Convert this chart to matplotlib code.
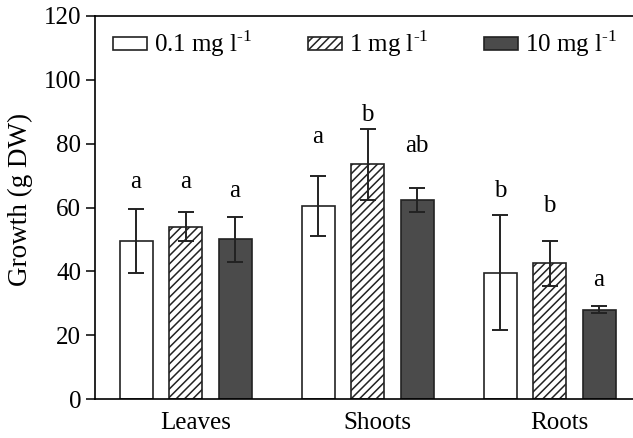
"""
Growth of plant parts at three concentrations
"""
import numpy as np
import matplotlib.pyplot as plt

plt.rcParams['font.family'] = ['Liberation Serif', 'DejaVu Serif']
plt.rcParams['mathtext.fontset'] = 'custom'
plt.rcParams['mathtext.rm'] = 'Liberation Serif'
plt.rcParams['hatch.linewidth'] = 1.1

# Data
organs = ['Leaves', 'Shoots', 'Roots']
doses = [r'0.1 mg l$^{\text{-1}}$', r'1 mg l$^{\text{-1}}$', r'10 mg l$^{\text{-1}}$']
growth_01 = [49.5, 60.5, 39.5]
growth_1 = [54.0, 73.5, 42.5]
growth_10 = [50.0, 62.3, 28.0]
err_01 = [10.0, 9.5, 18.0]
err_1 = [4.6, 11.0, 7.0]
err_10 = [7.0, 3.8, 1.2]
letters_01 = ['a', 'a', 'b']
letters_1 = ['a', 'b', 'b']
letters_10 = ['a', 'ab', 'a']
letter_y_01 = [66.0, 80.1, 63.4]
letter_y_1 = [66.0, 87.2, 58.7]
letter_y_10 = [63.4, 77.3, 35.5]

growth = [growth_01, growth_1, growth_10]
errors = [err_01, err_1, err_10]
letters = [letters_01, letters_1, letters_10]
letter_y = [letter_y_01, letter_y_1, letter_y_10]

# Styles
faces = ['white', 'white', '#4b4b4b']
hatches = ['', '////', '']
edge = '#222222'

fig = plt.figure(figsize=(6.33, 4.38), dpi=100)
ax = fig.add_axes([0.150, 0.089, 0.85, 0.8745])

x = np.arange(len(organs)) * 3.677
width = 0.667

for i in range(3):
    pos = x + (i - 1) * 1.0
    ax.bar(pos, growth[i], width, color=faces[i], edgecolor=edge,
           hatch=hatches[i], linewidth=1.2, label=doses[i], zorder=2)
    ax.errorbar(pos, growth[i], yerr=errors[i], fmt='none', ecolor=edge,
                elinewidth=1.4, capsize=6, capthick=1.4, zorder=3)
    for p, lab, ly in zip(pos, letters[i], letter_y[i]):
        ax.text(p, ly, lab, ha='center', va='baseline', fontsize=18)

ax.set_xlim(-1.83, 9.04)
ax.set_ylim(0, 120)
ax.set_yticks(np.arange(0, 121, 20))
ax.set_xticks(x + 0.2)
ax.set_xticklabels(organs)
ax.tick_params(axis='x', length=0, pad=9, labelsize=18)
ax.tick_params(axis='y', direction='out', length=6.5, width=1.1, labelsize=18)

ax.spines['right'].set_visible(False)
for s in ['left', 'top', 'bottom']:
    ax.spines[s].set_linewidth(1.2)

ax.set_ylabel('Growth (g DW)', fontsize=19.5)
ax.yaxis.set_label_coords(-0.116, 0.52)

ax.legend(loc='center left', bbox_to_anchor=(0.033, 0.927), ncol=3,
          frameon=False, fontsize=18, handlelength=1.36, handleheight=0.44,
          handletextpad=0.3, columnspacing=2.2, borderpad=0, borderaxespad=0)

plt.savefig('out.png', dpi=100)
